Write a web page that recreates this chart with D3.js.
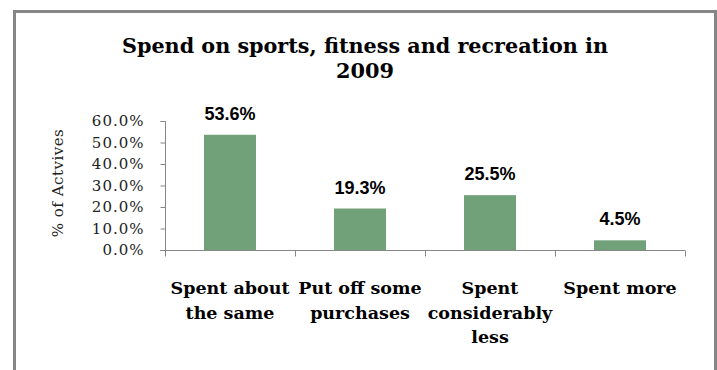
<!DOCTYPE html>
<html>
<head>
<meta charset="utf-8">
<script src="https://cdn.jsdelivr.net/npm/d3@7"></script>
<style>
  body { margin: 0; background: #fff; }
  svg { display: block; }
</style>
</head>
<body>
<div id="chart"></div>
<script>
// chart data
const categories = [
  ["Spent about", "the same"],
  ["Put off some", "purchases"],
  ["Spent", "considerably", "less"],
  ["Spent more"]
];
const values = [53.6, 19.3, 25.5, 4.5];
const yTicks = [0, 10, 20, 30, 40, 50, 60];
const titleLines = ["Spend on sports, fitness and recreation in", "2009"];
const yTitle = "% of Actvives";

const width = 717, height = 370;

const svg = d3.select("#chart")
    .append("svg")
    .attr("width", width)
    .attr("height", height);

// outer frame (bottom edge runs off the picture)
svg.append("path")
    .attr("d", `M14.5,${height + 5}V11.5H715.5V${height + 5}`)
    .attr("fill", "none")
    .attr("stroke", "#868686")
    .attr("stroke-width", 3);

// title - slab serif squeezed to the reference width
const titleWidths = [486, 58];
svg.append("g").selectAll("text")
    .data(titleLines)
    .enter()
    .append("text")
    .attr("x", 365)
    .attr("y", (d, i) => 53 + i * 25)
    .attr("text-anchor", "middle")
    .attr("textLength", (d, i) => titleWidths[i])
    .attr("lengthAdjust", "spacingAndGlyphs")
    .style("font-family", "'DejaVu Serif', serif")
    .style("font-weight", "bold")
    .style("font-size", "21px")
    .attr("fill", "#000")
    .text(d => d);

const idx = d3.range(values.length);

// scales
const xScale = d3.scaleBand()
    .domain(idx)
    .range([165, 685]);

const yScale = d3.scaleLinear()
    .domain([0, 60])
    .range([250, 121]);

// y axis
const yAxis = svg.append("g")
    .attr("transform", "translate(165.5,0)")
    .call(d3.axisLeft(yScale)
        .tickValues(yTicks)
        .tickSize(5)
        .tickPadding(16)
        .tickFormat(d => d.toFixed(1) + "%"));
yAxis.select(".domain").attr("stroke", "#868686").attr("d", "M-5,121.5H0V250.5");
yAxis.selectAll(".tick line").attr("stroke", "#868686");
yAxis.selectAll(".tick text")
    .style("font-family", "'DejaVu Serif', serif")
    .style("font-size", "15px")
    .style("letter-spacing", "1px")
    .attr("fill", "#222");

// x axis
const xAxis = svg.append("g")
    .attr("transform", "translate(0,250.5)");
xAxis.append("line")
    .attr("x1", xScale.range()[0] - 5)
    .attr("x2", xScale.range()[1])
    .attr("stroke", "#868686");
xAxis.selectAll(".xtick")
    .data(idx.concat([values.length]))
    .enter()
    .append("line")
    .attr("class", "xtick")
    .attr("x1", d => Math.round(xScale.range()[0] + d * xScale.step()) + 0.5)
    .attr("x2", d => Math.round(xScale.range()[0] + d * xScale.step()) + 0.5)
    .attr("y1", 0)
    .attr("y2", 6)
    .attr("stroke", "#868686");

// y axis title
svg.append("text")
    .attr("transform", "translate(63,183) rotate(-90)")
    .attr("text-anchor", "middle")
    .style("font-family", "'DejaVu Serif', serif")
    .style("font-size", "15px")
    .style("letter-spacing", "0.5px")
    .attr("fill", "#222")
    .text(yTitle);

// bars
const barW = xScale.bandwidth() * 0.4;
svg.selectAll("rect.bar")
    .data(values)
    .enter()
    .append("rect")
    .attr("class", "bar")
    .attr("x", (d, i) => xScale(i) + (xScale.bandwidth() - barW) / 2)
    .attr("y", d => yScale(d))
    .attr("width", barW)
    .attr("height", d => yScale(0) - yScale(d))
    .attr("fill", "#71a178");

// value labels
svg.selectAll("text.val")
    .data(values)
    .enter()
    .append("text")
    .attr("class", "val")
    .attr("x", (d, i) => xScale(i) + xScale.bandwidth() / 2)
    .attr("y", d => yScale(d) - 15)
    .attr("text-anchor", "middle")
    .style("font-family", "'Liberation Sans', Arial, sans-serif")
    .style("font-weight", "bold")
    .style("font-size", "18px")
    .attr("fill", "#000")
    .text(d => d.toFixed(1) + "%");

// category labels
const cat = svg.selectAll("g.cat")
    .data(categories)
    .enter()
    .append("g")
    .attr("class", "cat");
cat.selectAll("text")
    .data((d, i) => d.map(line => ({ line, i })))
    .enter()
    .append("text")
    .attr("x", d => xScale(d.i) + xScale.bandwidth() / 2)
    .attr("y", (d, j) => 294 + j * 24.5)
    .attr("text-anchor", "middle")
    .style("font-family", "'DejaVu Serif', serif")
    .style("font-weight", "bold")
    .style("font-size", "17.5px")
    .attr("fill", "#000")
    .text(d => d.line);
</script>
</body>
</html>
